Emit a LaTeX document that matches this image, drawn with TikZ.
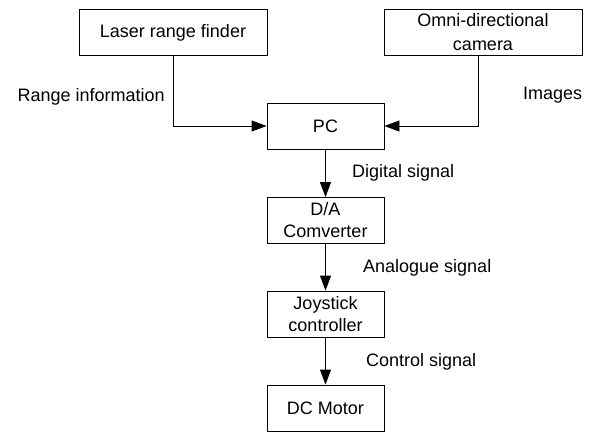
\documentclass[tikz,border=0pt]{standalone}
\usepackage{fontspec}
\setmainfont{Liberation Sans}
\usetikzlibrary{arrows.meta}
\begin{document}
\begin{tikzpicture}[x=1pt,y=-1pt,
  font=\fontsize{18}{22}\selectfont,
  box/.style={draw=black,line width=0.9pt,rectangle,inner sep=0pt,align=center,minimum height=46pt},
  smallbox/.style={box,minimum width=117pt},
  lbl/.style={inner sep=0pt,anchor=west},
  conn/.style={line width=0.9pt,-{Triangle[length=15pt,width=11pt]}}]
\useasboundingbox (0,0) rectangle (590,432);
\node[box,minimum width=188pt] (laser) at (173,32.5) {Laser range finder};
\node[box,minimum width=198pt,font=\fontsize{18}{24}\selectfont] (omni) at (483,32) {Omni-directional\\camera};
\node[smallbox] (pc) at (325.5,126) {PC};
\node[smallbox] (da) at (325.5,220.5) {D/A\\Comverter};
\node[smallbox] (joy) at (325.5,314) {Joystick\\controller};
\node[smallbox] (dc) at (325.5,408) {DC Motor};
\coordinate (omnidown) at (478,55);
\draw[conn] (laser.south) |- (pc.west);
\draw[conn] (omnidown) |- (pc.east);
\draw[conn] (pc) -- (da);
\draw[conn] (da) -- (joy);
\draw[conn] (joy) -- (dc);
\node[inner sep=0pt,anchor=east] (lrange) at (165,97) {Range information};
\node[lbl] (limages) at (523,95) {Images};
\node[lbl] (ldig) at (352,173) {Digital signal};
\node[lbl] (lana) at (363,268) {Analogue signal};
\node[lbl] (lctl) at (366,362) {Control signal};
\end{tikzpicture}
\end{document}
